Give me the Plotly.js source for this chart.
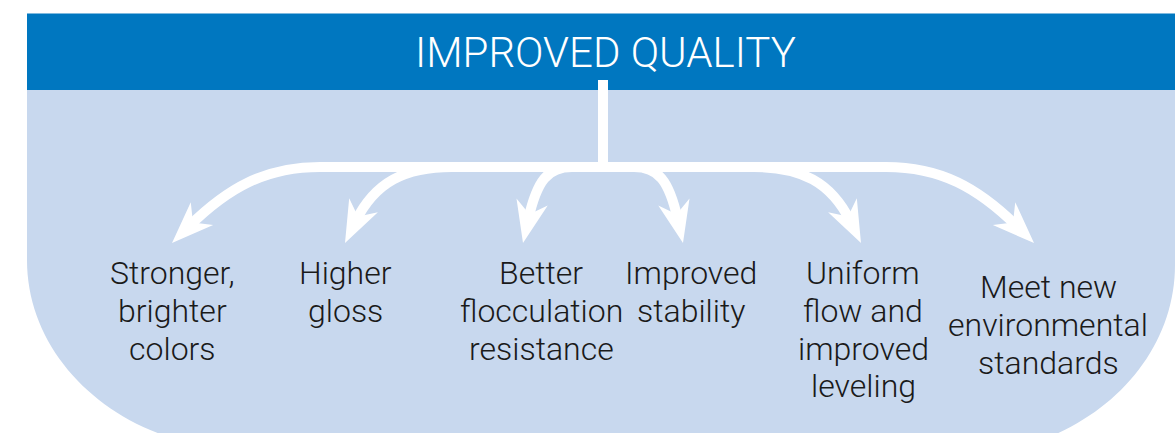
<!DOCTYPE html>
<html>
<head>
<meta charset="utf-8">
<script src="https://cdn.plot.ly/plotly-3.0.1.min.js"></script>
<style>html,body{margin:0;padding:0;background:#fff;}#chart{width:1175px;height:433px;}</style>
</head>
<body>
<div id="chart"></div>
<script>
// ---- content ----
const headerTitle = 'IMPROVED QUALITY';
const outcomeLabels = [
  'Stronger,<br>brighter<br>colors',
  'Higher<br>gloss',
  'Better<br>flocculation<br>resistance',
  'Improved<br>stability',
  'Uniform<br>flow and<br>improved<br>leveling',
  'Meet new<br>environmental<br>standards'
];

// ---- layout geometry (pixels, y down) ----
const W = 1175, H = 433;
const MID = 603;                       // stem centre
const labelX = [172, 345, 541, 691, 863, 1048];
const labelBaseline = [283, 283, 283, 283, 283, 297];
const LINE_GAP = 37.8, LABEL_SIZE = 32;
// left-half arrows: start on bar, two control points, tip
const leftArrows = [
  {s:[320,167], c1:[265,167], c2:[228,188], t:[172,243], fromStem:true},
  {s:[452,167], c1:[405,167], c2:[375,182], t:[345,243]},
  {s:[572,167], c1:[548,167], c2:[537,180], t:[523,243]}
];
const COL_HEAD = '#0077c0', COL_BG = '#c8d8ee', COL_ARROW = '#ffffff';

function mirror(p){ return [2*MID - p[0], p[1]]; }
const arrows = leftArrows.concat(leftArrows.slice().reverse().map(a => ({
  s: mirror(a.s), c1: mirror(a.c1), c2: mirror(a.c2), t: mirror(a.t), fromStem: a.fromStem
})));

const shapes = [];
// light background with rounded bottom corners (cubic approximations of ellipse quarters)
const k = 0.5523;
const L = {cx:250, cy:260, a:223, b:190};
const R = {cx:956, cy:265, a:219, b:190};
shapes.push({
  type:'path', xref:'x', yref:'y', layer:'above',
  path: `M 27 88 L ${W} 88 L ${W} ${R.cy} ` +
        `C ${W} ${R.cy + k*R.b} ${R.cx + k*R.a} ${R.cy + R.b} ${R.cx} ${R.cy + R.b} ` +
        `L ${L.cx} ${L.cy + L.b} ` +
        `C ${L.cx - k*L.a} ${L.cy + L.b} 27 ${L.cy + k*L.b} 27 ${L.cy} Z`,
  fillcolor: COL_BG, line:{width:0}
});
// header band
shapes.push({type:'rect', xref:'x', yref:'y', x0:27, x1:W, y0:13.5, y1:90,
  fillcolor: COL_HEAD, line:{width:0}, layer:'above'});
// stem
shapes.push({type:'path', xref:'x', yref:'y', layer:'above',
  path:`M ${MID} 80 L ${MID} 167`, line:{color:COL_ARROW, width:10}});

const HL = 42, HW = 16, NOTCH = 24;
arrows.forEach(a => {
  let dx = a.t[0] - a.c2[0], dy = a.t[1] - a.c2[1];
  const len = Math.hypot(dx, dy); dx /= len; dy /= len;
  const e = [a.t[0] - dx*NOTCH, a.t[1] - dy*NOTCH];
  let p = a.fromStem ? `M ${MID} 167 L ${a.s[0]} ${a.s[1]} ` : `M ${a.s[0]} ${a.s[1]} `;
  p += `C ${a.c1[0]} ${a.c1[1]} ${a.c2[0]} ${a.c2[1]} ${e[0]} ${e[1]}`;
  shapes.push({type:'path', xref:'x', yref:'y', layer:'above', path:p,
    line:{color:COL_ARROW, width:10}});
  const back = [a.t[0] - dx*HL, a.t[1] - dy*HL];
  const n = [-dy, dx];
  const b1 = [back[0] + n[0]*HW, back[1] + n[1]*HW];
  const b2 = [back[0] - n[0]*HW, back[1] - n[1]*HW];
  const nt = [a.t[0] - dx*HL*0.7, a.t[1] - dy*HL*0.7];
  shapes.push({type:'path', xref:'x', yref:'y', layer:'above',
    path:`M ${a.t[0]} ${a.t[1]} L ${b1[0]} ${b1[1]} L ${nt[0]} ${nt[1]} L ${b2[0]} ${b2[1]} Z`,
    fillcolor:COL_ARROW, line:{width:0}});
});

const FONT = 'Roboto, "Open Sans", sans-serif';
const annotations = [{
  x: 605, y: 52, xref:'x', yref:'y', text: headerTitle, showarrow:false,
  xanchor:'center', yanchor:'middle',
  font:{family:FONT, size:42, weight:300, color:'#ffffff'}
}];
outcomeLabels.forEach((t, i) => {
  t.split('<br>').forEach((line, j) => annotations.push({
    x: labelX[i], y: labelBaseline[i] + j*LINE_GAP - 10, xref:'x', yref:'y',
    text: line, showarrow:false, xanchor:'center', yanchor:'middle', align:'center',
    font:{family:FONT, size:LABEL_SIZE, weight:300, color:'#1a1a1a'}
  }));
});

Plotly.newPlot('chart', [], {
  width: W, height: H,
  margin:{l:0, r:0, t:0, b:0, pad:0},
  paper_bgcolor:'#ffffff', plot_bgcolor:'#ffffff',
  xaxis:{range:[0, W], visible:false, fixedrange:true},
  yaxis:{range:[H, 0], visible:false, fixedrange:true},
  showlegend:false,
  shapes: shapes,
  annotations: annotations
}, {staticPlot:true, displayModeBar:false});
</script>
</body>
</html>
